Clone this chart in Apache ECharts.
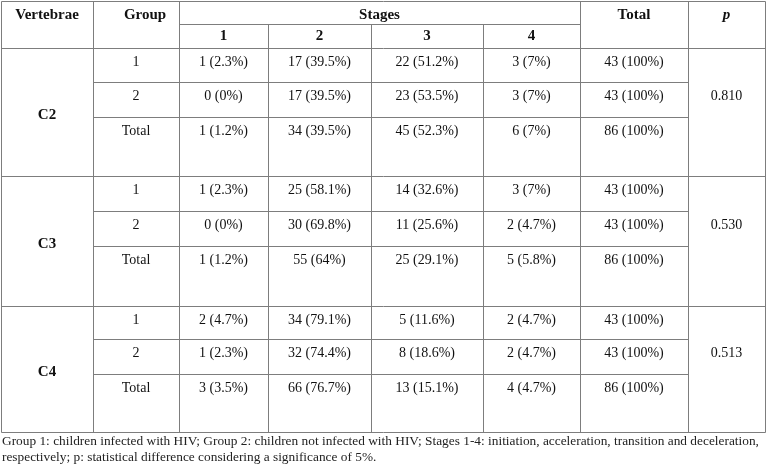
<!DOCTYPE html>
<html>
<head>
<meta charset="utf-8">
<script src="https://cdn.jsdelivr.net/npm/echarts@6/dist/echarts.min.js"></script>
<style>
html,body{margin:0;padding:0;background:#fff;}
#chart{width:766px;height:466px;}
</style>
</head>
<body>
<div id="chart"></div>
<script>
// ---- data ----
const headerLabels = ['Vertebrae', 'Group', 'Stages', 'Total', 'p'];
const stageLabels = ['1', '2', '3', '4'];
const vertebrae = ['C2', 'C3', 'C4'];
const groupLabels = ['1', '2', 'Total'];
const c2Count = [[1, 17, 22, 3], [0, 17, 23, 3], [1, 34, 45, 6]];
const c2Pct = [[2.3, 39.5, 51.2, 7], [0, 39.5, 53.5, 7], [1.2, 39.5, 52.3, 7]];
const c3Count = [[1, 25, 14, 3], [0, 30, 11, 2], [1, 55, 25, 5]];
const c3Pct = [[2.3, 58.1, 32.6, 7], [0, 69.8, 25.6, 4.7], [1.2, 64, 29.1, 5.8]];
const c4Count = [[2, 34, 5, 2], [1, 32, 8, 2], [3, 66, 13, 4]];
const c4Pct = [[4.7, 79.1, 11.6, 4.7], [2.3, 74.4, 18.6, 4.7], [3.5, 76.7, 15.1, 4.7]];
const totalCount = [43, 43, 86];
const totalPct = [100, 100, 100];
const pValues = ['0.810', '0.530', '0.513'];
const footnote = 'Group 1: children infected with HIV; Group 2: children not infected with HIV; Stages 1-4: initiation, acceleration, transition and deceleration,\nrespectively; p: statistical difference considering a significance of 5%.';

// ---- layout (table geometry in the page's coordinate space) ----
const colEdges = [1, 93, 179, 268, 371, 483, 580, 688, 765];
const rowEdges = [1, 24, 48, 82, 117, 176, 211, 246, 306, 339, 374, 432];
const TEXT_OFF = 14;
const LABEL_OFF = 3;
const FONT = '"Liberation Serif", "Times New Roman", serif';

const counts = [c2Count, c3Count, c4Count];
const pcts = [c2Pct, c3Pct, c4Pct];
const fmt = (c, p) => c + ' (' + p + '%)';

// text cells: [colStart, colEnd, yMode, rowIdx(or block), text, kind, dx]
const cells = [];
cells.push([0, 1, 'top', 0, headerLabels[0], 'bold', 0]);
cells.push([1, 2, 'top', 0, headerLabels[1], 'bold', 9]);
cells.push([2, 6, 'top', 0, headerLabels[2], 'bold', 0]);
cells.push([6, 7, 'top', 0, headerLabels[3], 'bold', 0]);
cells.push([7, 8, 'top', 0, headerLabels[4], 'bolditalic', 0]);
stageLabels.forEach((s, i) => cells.push([2 + i, 3 + i, 'mid', 1, s, 'bold', 0]));
vertebrae.forEach((v, b) => {
  const r0 = 2 + 3 * b;
  cells.push([0, 1, 'block', b, v, 'bold', 0]);
  groupLabels.forEach((g, r) => {
    cells.push([1, 2, 'top', r0 + r, g, 'normal', 0]);
    for (let s = 0; s < 4; s++) {
      cells.push([2 + s, 3 + s, 'top', r0 + r, fmt(counts[b][r][s], pcts[b][r][s]), 'normal', 0]);
    }
    cells.push([6, 7, 'top', r0 + r, fmt(totalCount[r], totalPct[r]), 'normal', 0]);
  });
  cells.push([7, 8, 'top', r0 + 1, pValues[b], 'normal', 0]);
});

// grid lines: [c0, c1, r0, r1]
const lines = [];
lines.push([0, 8, 0, 0]);
lines.push([2, 6, 1, 1]);
lines.push([0, 8, 2, 2]);
vertebrae.forEach((v, b) => {
  const r0 = 2 + 3 * b;
  lines.push([1, 7, r0 + 1, r0 + 1]);
  lines.push([1, 7, r0 + 2, r0 + 2]);
  lines.push([0, 8, r0 + 3, r0 + 3]);
});
[0, 1, 2, 6, 7, 8].forEach(c => lines.push([c, c, 0, rowEdges.length - 1]));
[3, 4, 5].forEach(c => lines.push([c, c, 1, rowEdges.length - 1]));

const chart = echarts.init(document.getElementById('chart'), null, {renderer: 'canvas'});
chart.setOption({
  backgroundColor: '#ffffff',
  animation: false,
  title: {
    text: footnote,
    left: 1,
    top: 431,
    padding: [2, 1],
    textStyle: {fontFamily: FONT, fontSize: 13.35, fontWeight: 'normal', color: '#222', lineHeight: 16}
  },
  grid: {left: 0, right: 0, top: 0, bottom: 0},
  xAxis: {type: 'value', min: 0, max: 766, show: false},
  yAxis: {type: 'value', min: 0, max: 466, inverse: true, show: false},
  series: [
    {
      type: 'custom',
      coordinateSystem: 'cartesian2d',
      data: lines,
      silent: true,
      renderItem: function (params, api) {
        const c0 = api.value(0), c1 = api.value(1), r0 = api.value(2), r1 = api.value(3);
        const p0 = api.coord([colEdges[c0], rowEdges[r0]]);
        const p1 = api.coord([colEdges[c1], rowEdges[r1]]);
        return {
          type: 'line',
          shape: {x1: Math.round(p0[0]) + 0.5, y1: Math.round(p0[1]) + 0.5, x2: Math.round(p1[0]) + 0.5, y2: Math.round(p1[1]) + 0.5},
          style: {stroke: '#7d7d7d', lineWidth: 1}
        };
      }
    },
    {
      type: 'custom',
      coordinateSystem: 'cartesian2d',
      data: cells.map(c => [c[0], c[1], c[3]]),
      silent: true,
      renderItem: function (params, api) {
        const c = cells[params.dataIndex];
        const x = (colEdges[c[0]] + colEdges[c[1]]) / 2 + c[6];
        let y;
        if (c[2] === 'top') y = rowEdges[c[3]] + TEXT_OFF;
        else if (c[2] === 'mid') y = (rowEdges[c[3]] + rowEdges[c[3] + 1]) / 2;
        else { const r0 = 2 + 3 * c[3]; y = (rowEdges[r0] + rowEdges[r0 + 3]) / 2 + LABEL_OFF; }
        const p = api.coord([x, y]);
        const bold = c[5] === 'bold' || c[5] === 'bolditalic';
        return {
          type: 'text',
          x: p[0], y: p[1],
          style: {
            text: c[4],
            textAlign: 'center',
            textVerticalAlign: 'middle',
            fontFamily: FONT,
            fontSize: bold ? 15 : 14,
            fontWeight: bold ? 'bold' : 'normal',
            fontStyle: c[5] === 'bolditalic' ? 'italic' : 'normal',
            fill: '#111'
          }
        };
      }
    }
  ]
});
</script>
</body>
</html>
